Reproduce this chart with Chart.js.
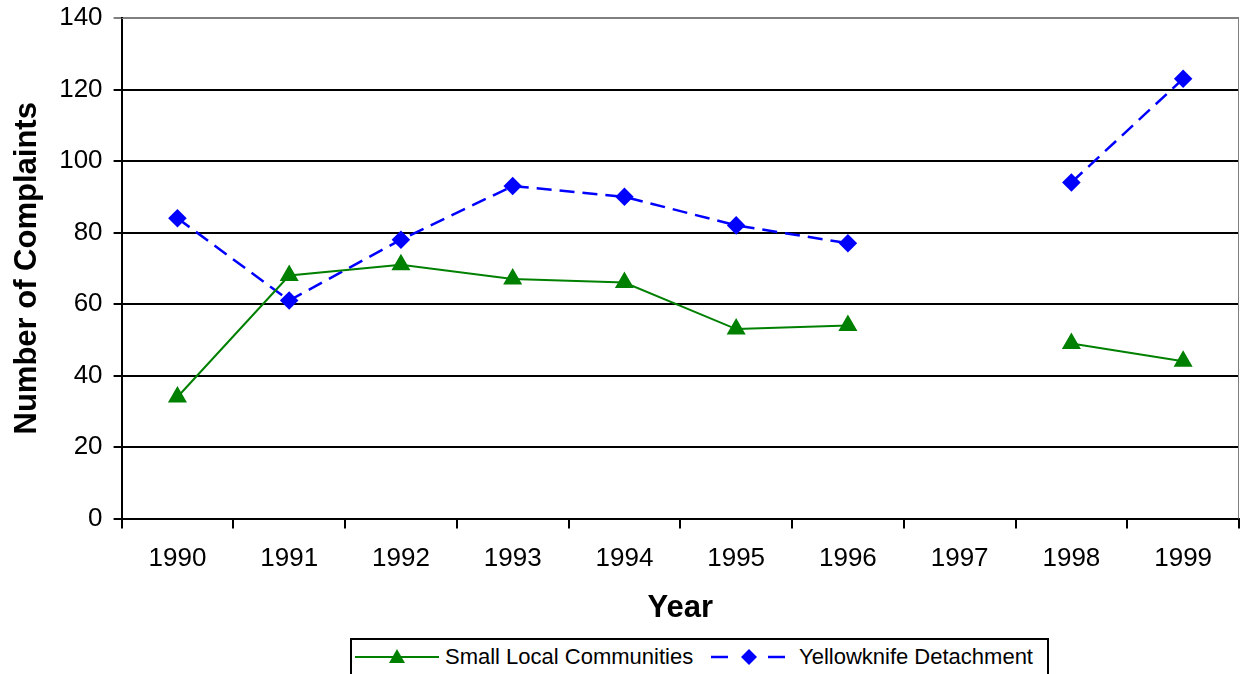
<!DOCTYPE html>
<html>
<head>
<meta charset="utf-8">
<script src="https://cdn.jsdelivr.net/npm/chart.js@4.4.0/dist/chart.umd.min.js"></script>
<style>
  html, body { margin: 0; padding: 0; background: #fff; }
  #wrap { position: relative; width: 1250px; height: 674px; overflow: hidden; }
  #legend {
    position: absolute; left: 350px; top: 638px; width: 699px; height: 44px;
    border: 2px solid #000; box-sizing: border-box; background: #fff;
    font-family: Arial, "Liberation Sans", sans-serif; font-size: 22px; color: #000;
  }
  #legend .item { position: absolute; top: 4px; display: flex; align-items: center; white-space: nowrap; }
  #legend svg { flex: none; }
</style>
</head>
<body>
<div id="wrap">
  <canvas id="chart" width="1250" height="674"></canvas>
  <div id="legend">
    <span class="item" style="left:3px">
      <svg width="84" height="24"><line x1="0" y1="12" x2="84" y2="12" stroke="#008000" stroke-width="2"/><polygon points="42,4 50,18 34,18" fill="#008000"/></svg>
      <span style="margin-left:6px">Small Local Communities</span>
    </span>
    <span class="item" style="left:359px">
      <svg width="74" height="24"><line x1="0" y1="12" x2="17" y2="12" stroke="#0000ff" stroke-width="2.5"/><line x1="57" y1="12" x2="74" y2="12" stroke="#0000ff" stroke-width="2.5"/><polygon points="38,4 46,12 38,20 30,12" fill="#0000ff"/></svg>
      <span style="margin-left:14px">Yellowknife Detachment</span>
    </span>
  </div>
</div>
<script>
// data; 1997 has no value for either series
const years = ['1990', '1991', '1992', '1993', '1994', '1995', '1996', '1997', '1998', '1999'];
const smallLocal = [34, 68, 71, 67, 66, 53, 54, null, 49, 44];
const yellowknife = [84, 61, 78, 93, 90, 82, 77, null, 94, 123];
const yTicks = [0, 20, 40, 60, 80, 100, 120, 140];

const font = 'Arial, "Liberation Sans", sans-serif';

// gray border on the top and right of the plot area
const plotBorder = {
  id: 'plotBorder',
  afterDraw(chart) {
    const { ctx, chartArea: a } = chart;
    ctx.save();
    ctx.strokeStyle = '#808080';
    ctx.lineWidth = 1;
    ctx.beginPath();
    ctx.moveTo(a.left, a.top + 0.5);
    ctx.lineTo(a.right - 0.5, a.top + 0.5);
    ctx.lineTo(a.right - 0.5, a.bottom);
    ctx.stroke();
    ctx.restore();
  }
};

new Chart(document.getElementById('chart'), {
  type: 'line',
  data: {
    labels: years,
    datasets: [{
      label: 'Small Local Communities',
      data: smallLocal,
      borderColor: '#008000',
      backgroundColor: '#008000',
      borderWidth: 2,
      pointStyle: 'triangle',
      pointRadius: 9,
      pointHoverRadius: 9,
      tension: 0,
      spanGaps: false
    }, {
      label: 'Yellowknife Detachment',
      data: yellowknife,
      borderColor: '#0000ff',
      backgroundColor: '#0000ff',
      borderWidth: 2.5,
      borderDash: [15, 8],
      pointStyle: 'rectRot',
      pointRadius: 7.5,
      pointHoverRadius: 7.5,
      tension: 0,
      spanGaps: false
    }]
  },
  options: {
    responsive: false,
    animation: false,
    layout: { padding: { left: 9, right: 1, top: 18, bottom: 47 } },
    plugins: {
      legend: { display: false },
      tooltip: { enabled: false }
    },
    scales: {
      x: {
        offset: true,
        afterFit(scale) { scale.paddingLeft = 0; scale.paddingRight = 0; },
        grid: {
          offset: true,
          drawOnChartArea: false,
          color: '#000',
          lineWidth: 2,
          tickLength: 10
        },
        border: { color: '#000', width: 2 },
        ticks: { color: '#000', font: { family: font, size: 26 }, padding: 15, maxRotation: 0 },
        title: {
          display: true, text: 'Year', color: '#000',
          font: { family: font, size: 31, weight: 'bold' },
          padding: { top: 0, bottom: 0 }
        }
      },
      y: {
        min: 0,
        max: 140,
        afterBuildTicks(axis) { axis.ticks = yTicks.map(v => ({ value: v })); },
        afterFit(scale) { scale.paddingTop = 0; scale.paddingBottom = 0; },
        grid: {
          color: ctx => (ctx.tick && ctx.tick.value === 140 ? '#808080' : '#000'),
          lineWidth: 2,
          tickLength: 8
        },
        border: { color: '#000', width: 2 },
        ticks: { color: '#000', font: { family: font, size: 26 }, padding: 11 },
        title: {
          display: true, text: 'Number of Complaints', color: '#000',
          font: { family: font, size: 31, weight: 'bold' },
          padding: { top: 0, bottom: 2 }
        }
      }
    }
  },
  plugins: [plotBorder]
});
</script>
</body>
</html>
